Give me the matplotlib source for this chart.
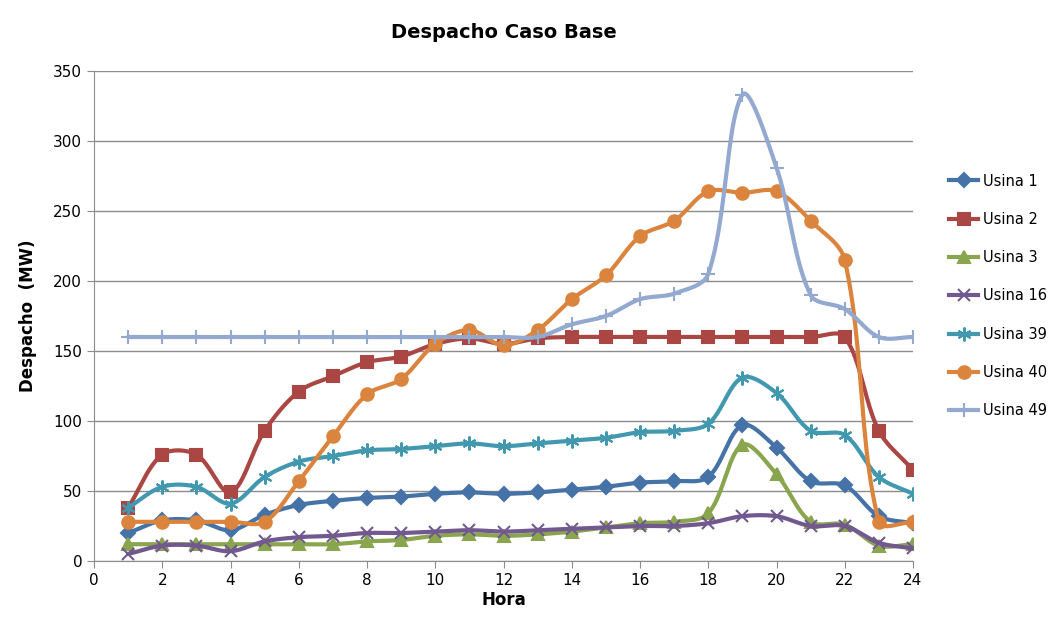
import numpy as np
import matplotlib.pyplot as plt

horas = np.arange(1, 25)

usina_1 = [20, 29, 29, 22, 33, 40, 43, 45, 46, 48, 49, 48,
           49, 51, 53, 56, 57, 60, 97, 81, 57, 54, 32, 27]
usina_2 = [38, 76, 76, 49, 93, 121, 132, 142, 146, 155, 159, 155,
           159, 160, 160, 160, 160, 160, 160, 160, 160, 160, 93, 65]
usina_3 = [12, 12, 12, 12, 12, 12, 12, 14, 15, 18, 19, 18,
           19, 21, 24, 27, 28, 34, 83, 62, 28, 26, 11, 12]
usina_16 = [5, 11, 11, 7, 14, 17, 18, 20, 20, 21, 22, 21,
            22, 23, 24, 25, 25, 27, 32, 32, 25, 25, 13, 9]
usina_39 = [38, 53, 53, 41, 60, 71, 75, 79, 80, 82, 84, 82,
            84, 86, 88, 92, 93, 98, 131, 120, 93, 90, 60, 48]
usina_40 = [28, 28, 28, 28, 28, 57, 89, 119, 130, 155, 165, 154,
            165, 187, 204, 232, 243, 264, 263, 264, 243, 215, 28, 28]
usina_49 = [160, 160, 160, 160, 160, 160, 160, 160, 160, 160, 160, 160,
            160, 169, 175, 187, 191, 205, 333, 281, 190, 180, 160, 160]

series = [
    ('Usina 1', usina_1, '#4572A7', 'D', 7),
    ('Usina 2', usina_2, '#AA4643', 's', 8),
    ('Usina 3', usina_3, '#89A54E', '^', 8),
    ('Usina 16', usina_16, '#71588F', 'x', 8),
    ('Usina 39', usina_39, '#4198AF', (6, 2, 0), 10),
    ('Usina 40', usina_40, '#DB843D', 'o', 9),
    ('Usina 49', usina_49, '#93A9CF', '+', 10),
]

# screen scale (px per unit) so the curve bends the same way on screen
SX, SY = 819 / 24, 490 / 350


def smooth(x, y, n=24):
    # bezier through the points, control arms weighted by segment length
    p = np.column_stack([np.asarray(x, float) * SX, np.asarray(y, float) * SY])
    ext = np.vstack([p[0], p, p[-1]])
    d = np.hypot(*np.diff(ext, axis=0).T)
    t = np.linspace(0, 1, n, endpoint=False)[:, None]
    out = []
    for i in range(len(p) - 1):
        a, b = p[i], p[i + 1]
        k = i + 1
        da, db, dc = d[k - 1], d[k], d[k + 1]
        c1 = a + (ext[k + 1] - ext[k - 1]) * (db / (da + db) if da + db else 0) / 3
        c2 = b - (ext[k + 2] - ext[k]) * (db / (db + dc) if db + dc else 0) / 3
        seg = ((1 - t) ** 3 * a + 3 * (1 - t) ** 2 * t * c1
               + 3 * (1 - t) * t ** 2 * c2 + t ** 3 * b)
        out.append(seg)
    out.append(p[-1][None, :])
    out = np.vstack(out)
    return out[:, 0] / SX, out[:, 1] / SY


fig = plt.figure(figsize=(10.62, 6.28), dpi=100)
ax = fig.add_axes([94 / 1062, 1 - 561 / 628, 819 / 1062, 490 / 628])

for nome, vals, cor, mk, ms in series:
    sx, sy = smooth(horas, vals)
    ax.plot(sx, sy, color=cor, lw=3, solid_capstyle='round')
    ax.plot(horas, vals, ls='none', marker=mk, ms=ms, color=cor,
            mec=cor, mew=1.5)
    ax.plot([], [], color=cor, lw=3, marker=mk, ms=ms, mew=1.5, label=nome)

ax.set_xlim(0, 24)
ax.set_ylim(0, 350)
ax.set_xticks(range(0, 25, 2))
ax.set_yticks(range(0, 351, 50))
ax.yaxis.grid(True, color='#8c8c8c', lw=1)
ax.set_axisbelow(True)
for s in ('top', 'right'):
    ax.spines[s].set_visible(False)
for s in ('left', 'bottom'):
    ax.spines[s].set_color('#8c8c8c')
ax.tick_params(direction='out', color='#8c8c8c', length=5, labelsize=11)

ax.set_title('Despacho Caso Base', fontsize=14, fontweight='bold', pad=24)
ax.set_xlabel('Hora', fontsize=12, fontweight='bold', labelpad=2)
ax.set_ylabel('Despacho  (MW)', fontsize=12, fontweight='bold', labelpad=12)

fig.legend(loc='center left', bbox_to_anchor=(936 / 1062, 1 - 296 / 628),
           frameon=False, fontsize=10.5, labelspacing=1.6,
           handlelength=2.0, handletextpad=0.3)

fig.savefig('out.png', dpi=100)
